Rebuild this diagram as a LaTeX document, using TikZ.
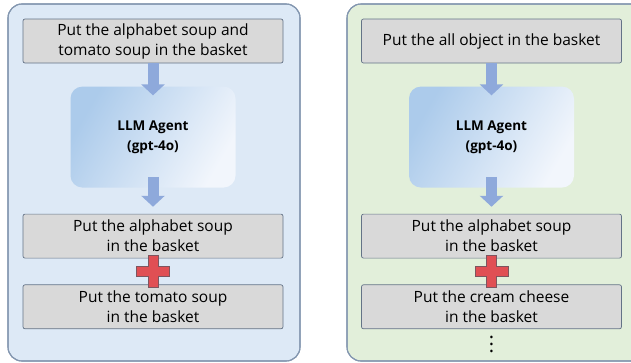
\documentclass[tikz,border=0pt]{standalone}
\usepackage{fontspec}
\setmainfont{Open Sans}
\usetikzlibrary{positioning,arrows.meta,calc}
\definecolor{panelblue}{RGB}{221,233,246}
\definecolor{panelgreen}{RGB}{226,239,218}
\definecolor{panelrim}{RGB}{132,151,176}
\definecolor{taskgray}{RGB}{217,217,217}
\definecolor{taskrim}{RGB}{100,115,135}
\definecolor{flowblue}{RGB}{142,169,219}
\definecolor{agentdark}{RGB}{172,203,235}
\definecolor{agentlight}{RGB}{242,246,252}
\definecolor{plusred}{RGB}{224,79,84}
\definecolor{plusrim}{RGB}{125,85,95}
\tikzset{
  panel/.style = {draw=panelrim, line width=1.1pt, rounded corners=14pt},
  task/.style  = {draw=taskrim, fill=taskgray, rounded corners=2pt, line width=0.7pt,
                  minimum width=260pt, minimum height=44pt, inner sep=0pt,
                  align=center, font=\fontsize{15.5}{20}\selectfont},
  agent/.style = {rounded corners=12pt, minimum width=165pt, minimum height=101pt,
                  left color=agentdark, right color=agentlight, shading angle=60,
                  align=center, font=\fontsize{13.5}{20}\selectfont\bfseries},
  flow/.style  = {-{Triangle[length=11pt,width=23pt]}, line width=11pt, draw=flowblue},
  plus/.style  = {fill=plusred, draw=plusrim, line width=0.6pt},
}
\newcommand\plusmark[1]{%
  \draw[plus, shift={(#1)}] (-5,-16) -- (5,-16) -- (5,-5) -- (16.5,-5) -- (16.5,5)
    -- (5,5) -- (5,16) -- (-5,16) -- (-5,5) -- (-16.5,5) -- (-16.5,-5) -- (-5,-5) -- cycle;}

\begin{document}
\begin{tikzpicture}[x=1pt, y=-1pt]
  \path[use as bounding box, clip] (0,0) rectangle (631,362);
  % the two panels
  \fill[panelblue, panel] (8,4) rectangle (300,361);
  \draw[panel] (8,4) rectangle (300,361);
  \fill[panelgreen, panel] (347,4) rectangle (660,361);
  \draw[panel] (347,4) rectangle (660,361);

  % left: two objects asked at once
  \node[task] (a1) at (153,41) {Put the alphabet soup and\\tomato soup in the basket};
  \node[agent, below=23pt of a1] (a2) {LLM Agent\\(gpt-4o)};
  \node[task, below=26pt of a2] (a3) {Put the alphabet soup\\in the basket};
  \node[task, below=26pt of a3] (a4) {Put the tomato soup\\in the basket};
  \draw[flow, shorten >=-9pt] (a1) -- (a2);
  \draw[flow, shorten <=-11pt, shorten >=7pt] (a2) -- (a3);
  \coordinate (ap) at ($(a3.south)!0.5!(a4.north)$);
  \plusmark{ap}

  % right: all objects
  \node[task] (b1) at (491.5,41) {Put the all object in the basket};
  \node[agent, below=23pt of b1] (b2) {LLM Agent\\(gpt-4o)};
  \node[task, below=26pt of b2] (b3) {Put the alphabet soup\\in the basket};
  \node[task, below=26pt of b3] (b4) {Put the cream cheese\\in the basket};
  \node[below=7pt of b4, inner sep=0pt, align=center,
        font=\fontsize{20}{7}\selectfont] (b5) {.\\.\\.};
  \draw[flow, shorten >=-9pt] (b1) -- (b2);
  \draw[flow, shorten <=-11pt, shorten >=7pt] (b2) -- (b3);
  \coordinate (bp) at ($(b3.south)!0.5!(b4.north)$);
  \plusmark{bp}
\end{tikzpicture}
\end{document}
